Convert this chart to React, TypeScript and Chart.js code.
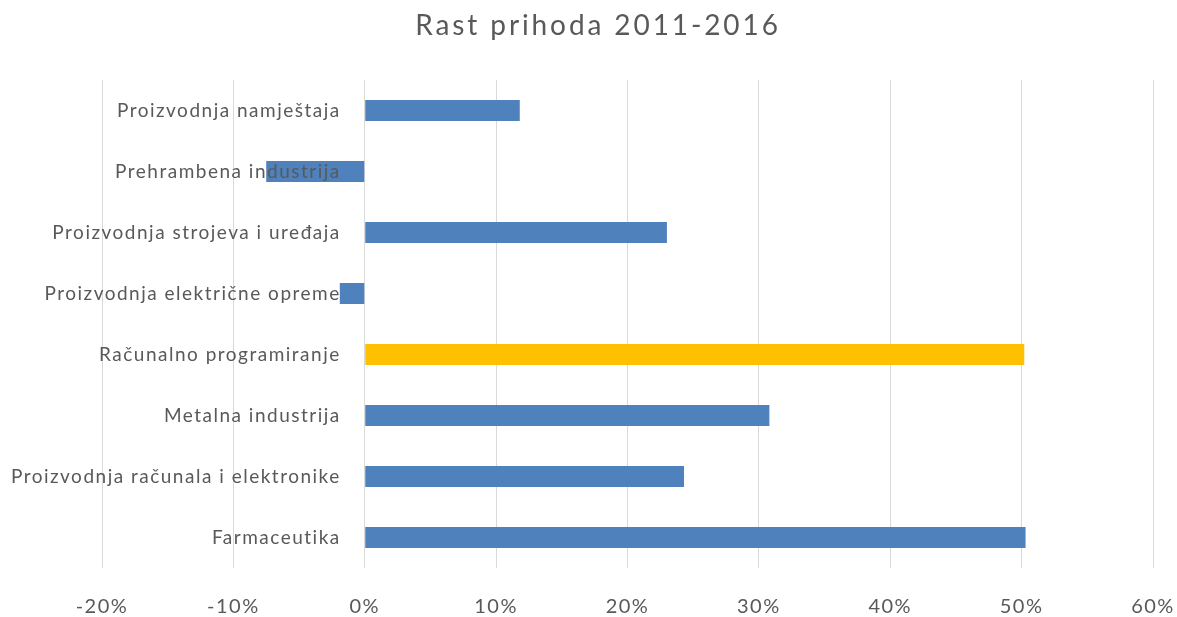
import React, { useEffect, useRef } from "react";
import { Chart, registerables } from "chart.js";

Chart.register(...registerables);

const categories = [
  "Proizvodnja namještaja",
  "Prehrambena industrija",
  "Proizvodnja strojeva i uređaja",
  "Proizvodnja električne opreme",
  "Računalno programiranje",
  "Metalna industrija",
  "Proizvodnja računala i elektronike",
  "Farmaceutika",
];
const growth = [11.8, -7.5, 23.0, -1.9, 50.2, 30.8, 24.3, 50.3];
const barColors = ["#4F81BD", "#4F81BD", "#4F81BD", "#4F81BD", "#FFC000", "#4F81BD", "#4F81BD", "#4F81BD"];
const xMin = -20;
const xMax = 60;
const titleText = "Rast prihoda 2011-2016";

const FONT = "Lato, 'Open Sans', sans-serif";
const TEXT_COLOR = "#595959";

const textSpacing = {
  id: "textSpacing",
  beforeDraw(chart: any) {
    (chart.ctx as any).letterSpacing = "1.5px";
  },
};

const categoryLabels = {
  id: "categoryLabels",
  afterDatasetsDraw(chart: any) {
    const { ctx, scales } = chart;
    const x0 = scales.x.getPixelForValue(0);
    ctx.save();
    ctx.letterSpacing = "1.5px";
    ctx.font = `19px ${FONT}`;
    ctx.fillStyle = TEXT_COLOR;
    ctx.textAlign = "right";
    ctx.textBaseline = "middle";
    categories.forEach((c, i) => {
      ctx.fillText(c, x0 - 24, scales.y.getPixelForValue(i));
    });
    ctx.letterSpacing = "2.9px";
    ctx.font = `28px ${FONT}`;
    ctx.textAlign = "center";
    ctx.fillText(titleText, 598, 26);
    ctx.restore();
  },
};

export default function App() {
  const ref = useRef<HTMLCanvasElement>(null);
  useEffect(() => {
    document.body.style.margin = "0";
    const chart = new Chart(ref.current!, {
      type: "bar",
      data: {
        labels: categories,
        datasets: [
          {
            data: growth,
            backgroundColor: barColors,
            borderWidth: 0,
            barPercentage: 0.69,
            categoryPercentage: 0.5,
          },
        ],
      },
      options: {
        indexAxis: "y",
        animation: false,
        responsive: false,
        maintainAspectRatio: false,
        layout: { padding: { left: 102, right: 24, top: 80, bottom: 0 } },
        plugins: {
          legend: { display: false },
          tooltip: { enabled: false },
          title: { display: false },
        },
        scales: {
          x: {
            min: xMin,
            max: xMax,
            ticks: {
              stepSize: 10,
              color: TEXT_COLOR,
              font: { family: FONT, size: 20 },
              padding: 27,
              callback: (v: any) => `${v}%`,
            },
            afterFit: (scale: any) => {
              scale.height = 49;
              scale.paddingLeft = 0;
              scale.paddingRight = 0;
            },
            grid: { color: "#D9D9D9", drawTicks: false },
            border: { display: false },
          },
          y: {
            display: false,
            grid: { display: false },
          },
        },
      },
      plugins: [textSpacing, categoryLabels],
    });
    return () => chart.destroy();
  }, []);
  return <canvas ref={ref} width={1177} height={617} style={{ display: "block" }} />;
}
